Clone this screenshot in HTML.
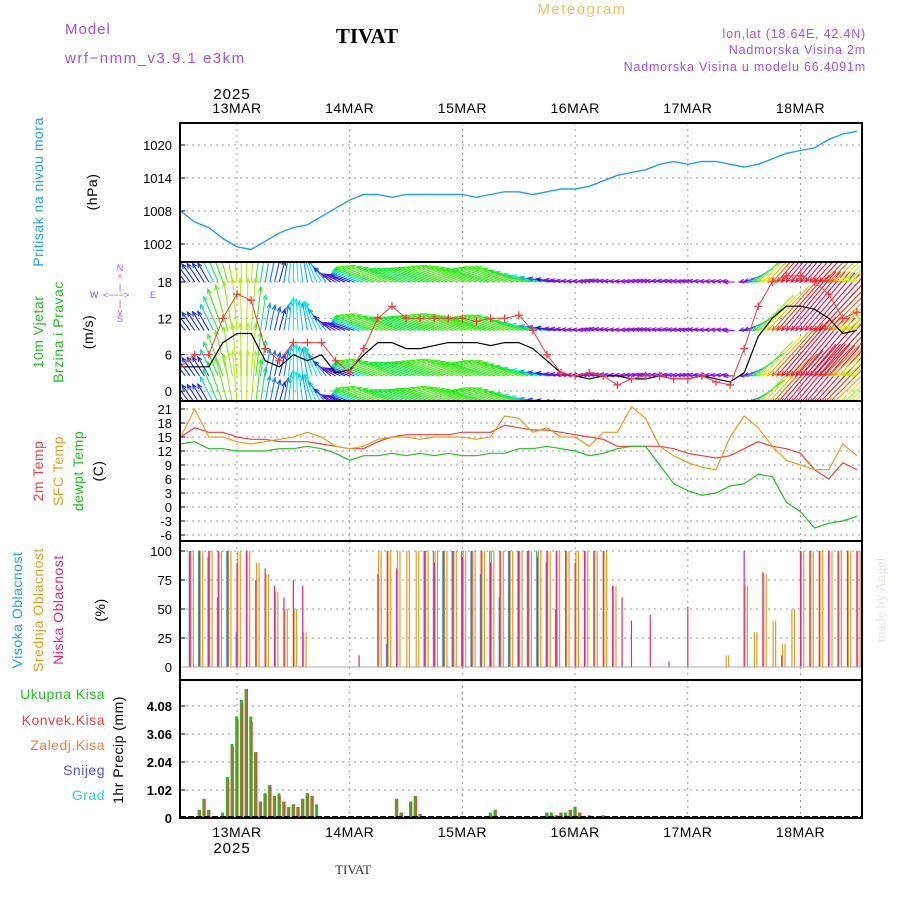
<!DOCTYPE html>
<html><head><meta charset="utf-8"><style>
body{margin:0;background:#fff;}
svg{display:block;font-family:"Liberation Sans",sans-serif;}
</style></head><body>
<svg id="c" width="900" height="900" xmlns="http://www.w3.org/2000/svg">
<text x="65" y="34" fill="#a050f0" font-size="15" letter-spacing="1">Model</text>
<text x="65" y="63" fill="#a050f0" font-size="15" letter-spacing="1.5">wrf−nmm_v3.9.1 e3km</text>
<text x="367" y="43" text-anchor="middle" font-family="Liberation Serif,serif" font-weight="bold" font-size="21">TIVAT</text>
<text x="582" y="14" text-anchor="middle" fill="#f0c060" font-size="15" letter-spacing="1.5">Meteogram</text>
<text x="866" y="38" text-anchor="end" fill="#a050f0" font-size="12.5" letter-spacing="0.8">lon,lat (18.64E, 42.4N)</text>
<text x="866" y="54" text-anchor="end" fill="#a050f0" font-size="12.5" letter-spacing="0.8">Nadmorska Visina 2m</text>
<text x="866" y="71" text-anchor="end" fill="#a050f0" font-size="12.5" letter-spacing="0.8">Nadmorska Visina u modelu 66.4091m</text>
<text x="232" y="99" text-anchor="middle" font-size="15" letter-spacing="1">2025</text>
<text x="232" y="853" text-anchor="middle" font-size="15" letter-spacing="1">2025</text>
<text x="353" y="874" text-anchor="middle" font-family="Liberation Serif,serif" font-size="13" fill="#333">TIVAT</text>
<text transform="translate(885,600) rotate(-90)" text-anchor="middle" font-family="Liberation Serif,serif" font-size="14" fill="#dde8dd">made by Angel</text>
<g font-size="14" letter-spacing="0.5">
<text transform="translate(43,192) rotate(-90)" text-anchor="middle" fill="#20a0f0">Pritisak na nivou mora</text>
<text transform="translate(97,192) rotate(-90)" text-anchor="middle">(hPa)</text>
<text transform="translate(43,332) rotate(-90)" text-anchor="middle" fill="#20c020">10m Vjetar</text>
<text transform="translate(63,332) rotate(-90)" text-anchor="middle" fill="#20c020">Brzina i Pravac</text>
<text transform="translate(93,332) rotate(-90)" text-anchor="middle">(m/s)</text>
<text transform="translate(43,471) rotate(-90)" text-anchor="middle" fill="#f04040">2m Temp</text>
<text transform="translate(63,471) rotate(-90)" text-anchor="middle" fill="#e0a020">SFC Temp</text>
<text transform="translate(83,471) rotate(-90)" text-anchor="middle" fill="#20c020">dewpt Temp</text>
<text transform="translate(103,471) rotate(-90)" text-anchor="middle">(C)</text>
<text transform="translate(22,610) rotate(-90)" text-anchor="middle" fill="#20a0f0">Visoka Oblacnost</text>
<text transform="translate(43,610) rotate(-90)" text-anchor="middle" fill="#e0a020">Srednja Oblacnost</text>
<text transform="translate(63,610) rotate(-90)" text-anchor="middle" fill="#f02080">Niska Oblacnost</text>
<text transform="translate(105,610) rotate(-90)" text-anchor="middle">(%)</text>
<text transform="translate(123,750) rotate(-90)" text-anchor="middle">1hr Precip (mm)</text>
<text x="105" y="699" text-anchor="end" fill="#20c020">Ukupna Kisa</text>
<text x="105" y="725" text-anchor="end" fill="#f04040">Konvek.Kisa</text>
<text x="105" y="750" text-anchor="end" fill="#f08040">Zaledj.Kisa</text>
<text x="105" y="775" text-anchor="end" fill="#5050f0">Snijeg</text>
<text x="105" y="800" text-anchor="end" fill="#30d0d0">Grad</text>
</g>
<g fill="#a050f0" font-size="9">
<text x="120" y="271" text-anchor="middle">N</text><text x="120" y="281" text-anchor="middle">^</text><text x="120" y="290" text-anchor="middle">|</text>
<text x="90" y="298">W</text><text x="103" y="298">&lt;−−−&gt;</text><text x="150" y="298">E</text>
<text x="120" y="306" text-anchor="middle">|</text><text x="120" y="315" text-anchor="middle">v</text><text x="120" y="322" text-anchor="middle">S</text>
</g>
<g id="plots"></g>
</svg>
<script>
// ---- data (3-hourly from 12MAR 12Z, t in days from 13MAR 00Z) ----
const startT = -0.5;
const stepT = 0.125;
const dayLabels = ["13MAR","14MAR","15MAR","16MAR","17MAR","18MAR"];
const pressure = [1008,1006,1005,1003,1001.5,1001,1002.5,1004,1005,1005.5,1007,1008.5,1010,1011,1011,1010.5,1011,1011,1011,1011,1011,1010.5,1011,1011.5,1011.5,1011,1011.5,1012,1012,1012.5,1013.5,1014.5,1015,1015.5,1016.5,1017,1016.5,1017,1017,1016.5,1016,1016.5,1017.5,1018.5,1019,1019.5,1021,1022,1022.5];
const windSpeed = [4,4,4,8,9.5,9.5,5,4,6,5,6,3,3.5,6,8,8,7,7,7.5,8,8,8,7.5,8,8,7,5,3,2.5,2,2.5,2.5,2,2,2.5,2,2,2.5,2,1.5,3,9,12,14,14,13.5,12,9.5,10];
const windGust = [4,6,6,12,16,15,7,5,8,8,8,5,3,7,12,14,12,12,12,12,12,11.5,12,12,12.5,10,6,3,2.5,3,2.5,1,2,2.5,2.5,2,2,2.5,1.5,1,7,14,18,19,19,18,16,12,13];
const windDir = [130,125,120,110,95,85,80,75,90,100,120,150,160,160,160,158,160,160,160,160,158,160,162,160,160,165,170,172,175,175,172,175,175,172,175,172,175,175,175,172,200,225,228,230,230,228,225,222,220];
const temp2m = [15,17,16,16,15,14.5,14.5,14,14,14,13.5,13,12.5,12.5,14,15,15.5,15.5,15.5,15.5,16,16,16,17.5,17,16.5,16.5,16,15.5,15,14.5,13,13,13,13,12.5,11.5,11,10.5,11,12.5,14,13,12.5,11.5,8,6,9.5,8];
const tempSfc = [15,21,15,15,14,13.5,14,14.5,15,16,15,13,12.5,13,14.5,15,15,14.5,15,15,15,14.5,15,19.5,19,16,17,15,15,13,16,16,21.5,19,13,11,9.5,8.5,8,15,19.5,17,13,10,9,8,8,13.5,11];
const dewpt = [13.5,14,12.5,12.5,12,12,12,12.5,12.5,13,12.5,11.5,10,11,11,11.5,11,11.5,11,11.5,11,11,11.5,11.5,12.5,12.5,13,12.5,12,11,11.5,12.5,13,13,9,5,3.5,2.5,3,4.5,5,7,6.5,1,-1,-4.5,-3.5,-3,-2];
// clouds, 2-hourly (step 1/12 day)
const cloudStep = 1/12;
const cloudHigh = [0,100,100,95,60,100,30,0,0,0,0,0,0,0,0,0,0,0,0,0,0,0,20,0,0,0,100,100,100,100,100,100,80,100,60,100,100,100,100,90,50,0,0,0,0,0,0,0,0,0,0,0,0,0,0,0,0,0,0,0,0,0,0,0,0,0,0,0,0,0,0,0,0];
const cloudMid = [0,100,100,100,100,100,100,100,90,80,65,50,50,30,0,0,0,0,0,0,0,100,100,100,100,100,100,100,100,100,100,100,100,100,100,100,100,100,100,100,100,100,100,100,100,100,70,0,0,0,0,0,0,0,0,0,0,0,10,0,70,30,80,40,20,50,100,100,100,100,100,100,100];
const cloudLow = [0,100,100,100,100,100,90,100,75,85,70,60,75,70,0,0,0,0,0,10,0,80,100,85,0,0,100,90,100,100,95,100,100,90,100,100,100,100,95,100,100,100,90,100,100,100,70,60,40,0,45,0,5,0,52,0,0,0,0,0,100,0,82,0,10,0,100,100,100,100,100,100,100];
// precipitation (hour index from 12MAR 12Z)
const precipHour = [4,5,6,7,9,10,11,12,13,14,15,16,17,18,19,20,21,22,23,24,25,26,27,28,29,46,47,49,50,51,66,67,78,79,80,81,82,83,84,85,87,90];
const precipTotal = [0.3,0.7,0.3,0.05,0.2,1.5,2.7,3.7,4.3,4.7,3.7,2.4,0.6,0.9,1.2,0.8,0.9,0.6,0.4,0.5,0.4,0.7,0.9,0.8,0.5,0.7,0.2,0.6,0.8,0.15,0.2,0.3,0.2,0.2,0.1,0.2,0.2,0.3,0.4,0.2,0.1,0.1];
const precipConv = [0.3,0.7,0.3,0.05,0.0,1.4,2.6,3.6,4.2,4.7,3.5,2.4,0.6,0.9,1.2,0.8,0.8,0.6,0.4,0.5,0.4,0.7,0.9,0.8,0.0,0.7,0.2,0.6,0.8,0.15,0.1,0.3,0.2,0.1,0.1,0.2,0.1,0.3,0.4,0.2,0.1,0.1];

const NS="http://www.w3.org/2000/svg";
const G=document.getElementById('plots');
const X0=180,X1=862,DAY=112.7,XT0=237;
const xs=t=>XT0+t*DAY;
function el(tag,at,parent){const e=document.createElementNS(NS,tag);for(const k in at)e.setAttribute(k,at[k]);(parent||G).appendChild(e);return e;}
const panels=[
 {top:123,bot:262,v0:1002,y0:244,v1:1020,y1:145,ticks:[1002,1008,1014,1020],lab:v=>v},
 {top:262,bot:401,v0:0,y0:391,v1:18,y1:282,ticks:[0,6,12,18],lab:v=>v},
 {top:401,bot:541,v0:-6,y0:535,v1:21,y1:409,ticks:[-6,-3,0,3,6,9,12,15,18,21],lab:v=>v},
 {top:541,bot:680,v0:0,y0:667,v1:100,y1:551,ticks:[0,25,50,75,100],lab:v=>v},
 {top:680,bot:818,v0:0,y0:818,v1:4.08,y1:706,ticks:[0,1.02,2.04,3.06,4.08],lab:v=>v===0?'0':v.toFixed(2)}
];
panels.forEach(p=>p.y=v=>p.y0+(v-p.v0)*(p.y1-p.y0)/(p.v1-p.v0));
const pn=['pressure','wind','temperature','cloud','precip'];
panels.forEach((p,i)=>{
 const g=el('g',{});
 
 
 el('clipPath',{id:'cp'+i},g).appendChild((()=>{const r=document.createElementNS(NS,'rect');r.setAttribute('x',X0);r.setAttribute('y',p.top);r.setAttribute('width',X1-X0);r.setAttribute('height',p.bot-p.top);return r;})());
 const grid=el('g',{stroke:'#999','stroke-dasharray':'2,4','stroke-width':1},g);
 for(let d=0;d<6;d++)el('line',{x1:xs(d),x2:xs(d),y1:p.top,y2:p.bot},grid);
 p.ticks.forEach(v=>{
  if(i!==4||v>0)el('line',{x1:X0,x2:X1,y1:p.y(v),y2:p.y(v)},grid);
  const t=el('text',{x:X0-8,y:p.y(v)+5,'text-anchor':'end','font-size':13,'font-weight':i===4?'bold':'normal'},g);
  t.textContent=p.lab(v);
  
  
  el('line',{x1:X0,x2:X0+5,y1:p.y(v),y2:p.y(v),stroke:'#000'},g);
 });
 p.g=el('g',{'clip-path':'url(#cp'+i+')'},g);
 el('rect',{x:X0,y:p.top,width:X1-X0,height:p.bot-p.top,fill:'none',stroke:'#000','stroke-width':2},g);
});
dayLabels.forEach((d,i)=>{
 for(const y of [113,837]){
  const t=el('text',{x:xs(i),y:y,'text-anchor':'middle','font-size':14,'letter-spacing':0.5});
  t.textContent=d;
  
  
 }
});
const tx=i=>xs(startT+i*stepT);
function line(arr,p,color,name,w){
 const pts=arr.map((v,i)=>tx(i).toFixed(1)+','+p.y(v).toFixed(1)).join(' ');
 const l=el('polyline',{points:pts,fill:'none',stroke:color,'stroke-width':w||1.2},p.g);
 
 
}
line(pressure,panels[0],'#20a0f0','pressure-line',1.4);
function speedColor(s){
 const stops=[[2,275],[3,265],[5,200],[7,130],[9,85],[11,45],[13,0],[15,-30]];
 let h=stops[stops.length-1][1];
 if(s<=stops[0][0])h=stops[0][1];
 else for(let k=0;k<stops.length-1;k++){if(s<=stops[k+1][0]){const a=stops[k],b=stops[k+1];h=a[1]+(s-a[0])/(b[0]-a[0])*(b[1]-a[1]);break;}}
 return 'hsl('+((h+360)%360)+',85%,50%)';
}
const wp=panels[1];
const ag=el('g',{'stroke-width':1.1},wp.g);


for(let i=0;i<windSpeed.length-1;i++){
 for(let s=0;s<3;s++){
  const f=s/3;
  const sp=windSpeed[i]+(windSpeed[i+1]-windSpeed[i])*f;
  const dir=windDir[i]+(windDir[i+1]-windDir[i])*f;
  const x=xs(startT+(i+f)*stepT);
  const L=sp*5.5, a=dir*Math.PI/180;
  const col=speedColor(sp);
  const south=Math.sin(a)<-0.1;
  for(const base of [18,10,2.5,-2]){
   const y=wp.y(base);
   let sx=x,sy=y,ex=x+L*Math.cos(a),ey=y-L*Math.sin(a);
   if(south){sx=x-L*Math.cos(a);sy=y+L*Math.sin(a);ex=x;ey=y;}
   el('line',{x1:sx,y1:sy,x2:ex,y2:ey,stroke:col},ag);
   const h1=a+Math.PI-0.4,h2=a+Math.PI+0.4;
   el('polyline',{points:`${ex+5*Math.cos(h1)},${ey-5*Math.sin(h1)} ${ex},${ey} ${ex+5*Math.cos(h2)},${ey-5*Math.sin(h2)}`,fill:'none',stroke:col},ag);
  }
 }
}
line(windSpeed,wp,'#000','wind-speed-line',1.2);
line(windGust,wp,'#f04040','wind-gust-line',1);
windGust.forEach((v,i)=>{
 const x=tx(i),y=wp.y(v);
 const c=el('path',{d:`M${x-4},${y}H${x+4}M${x},${y-4}V${y+4}`,stroke:'#f04040','stroke-width':1.3},wp.g);
 
 
});
line(temp2m,panels[2],'#f04040','temp-2m-line');
line(tempSfc,panels[2],'#e0a020','temp-sfc-line');
line(dewpt,panels[2],'#20c020','dewpoint-line');
const cp=panels[3];
[[cloudMid,'#e0a020',0.8,'mid-cloud-bar'],[cloudHigh,'#20a0f0',-0.8,'high-cloud-bar'],[cloudLow,'#f02080',0,'low-cloud-bar']].forEach(([arr,col,off,nm])=>{
 arr.forEach((v,k)=>{
  if(v<=0)return;
  const x=xs(startT+k*cloudStep)+off;
  const b=el('line',{x1:x,x2:x,y1:cp.y(0),y2:cp.y(v),stroke:col,'stroke-width':1.2},cp.g);
  
  
  if(nm==='mid-cloud-bar'){const b2=el('line',{x1:x+2.5,x2:x+2.5,y1:cp.y(0),y2:cp.y(v),stroke:col,'stroke-width':1.2},cp.g);}
 });
});
el('line',{x1:X0,x2:X1,y1:cp.y(0),y2:cp.y(0),stroke:'#aaa','stroke-width':1},cp.g);
const pp=panels[4];
precipHour.forEach((h,i)=>{
 const x=xs(startT+h/24);
 const b=el('rect',{x:x-1.8,y:pp.y(precipTotal[i]),width:3,height:pp.y(0)-pp.y(precipTotal[i]),fill:'#20c020'},pp.g);
 
 
 const r=el('rect',{x:x,y:pp.y(precipConv[i]),width:1.6,height:pp.y(0)-pp.y(precipConv[i]),fill:'#f04040'},pp.g);
 
 
});
el('line',{x1:X0,x2:X1,y1:pp.y(0)-1,y2:pp.y(0)-1,stroke:'#000','stroke-width':2,'stroke-dasharray':'6,2'},pp.g);
</script>
</body></html>
